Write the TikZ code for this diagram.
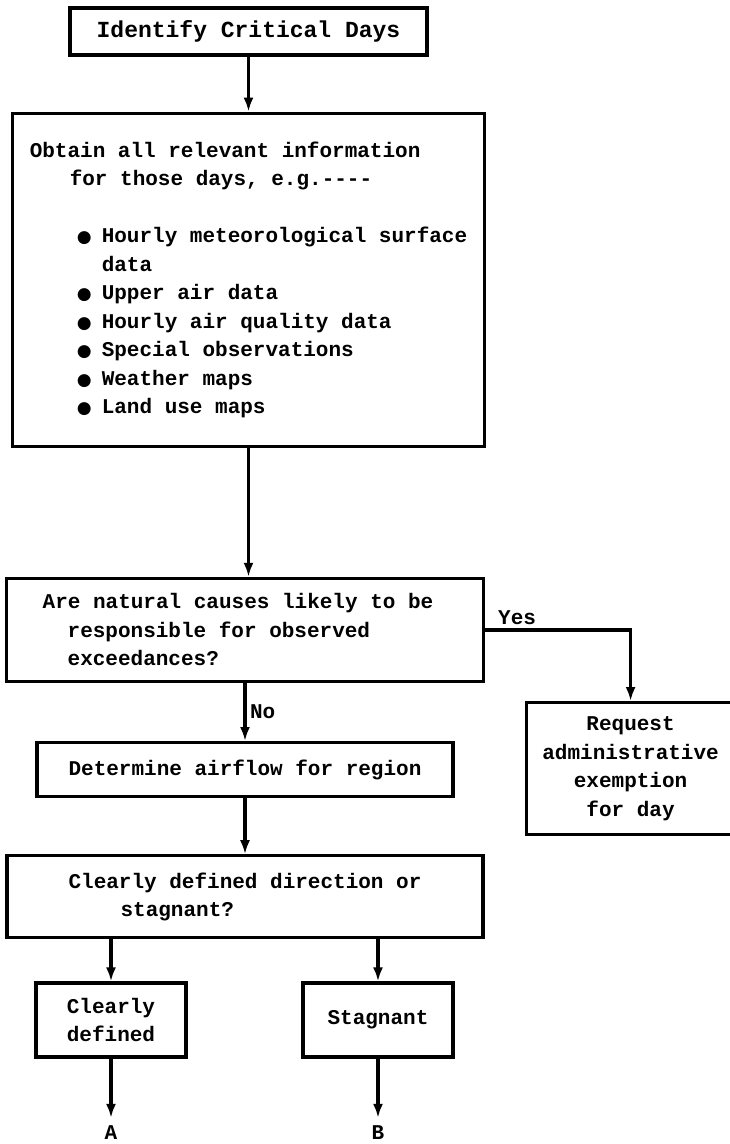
\documentclass[tikz,border=0pt]{standalone}
\usepackage{fontspec}
\setmonofont{Liberation Mono}
\newfontfamily\bulfont{DejaVu Sans}
\usetikzlibrary{arrows.meta,positioning}

% bullet sitting in a two-character cell of the typewriter font
\newcommand\bul{\makebox[25pt][l]{{\bulfont\fontsize{17}{17}\selectfont ●}}}

\begin{document}
\begin{tikzpicture}[x=1pt,y=-1pt,
  every node/.style={font=\ttfamily\bfseries\fontsize{21}{28.5}\selectfont},
  box/.style={draw,line width=3.2pt},
  arr/.style={line width=3.5pt,-{Latex[length=14pt,width=10pt]}}]
\path[use as bounding box,fill=white] (0,0) rectangle (730,1144);

\node[box,minimum width=357pt,minimum height=47pt,font=\ttfamily\bfseries\fontsize{23}{28}\selectfont] (crit) at (248.5,31.5) {Identify Critical Days};
\node[box,below=55pt of crit,minimum width=472pt,minimum height=333pt,align=left] (info) {Obtain all relevant information\\
\hspace*{40pt}for those days, e.g.----\\[28.5pt]
\hspace*{47pt}\bul Hourly meteorological surface\hspace*{8pt}\\
\hspace*{72pt}data\\
\hspace*{47pt}\bul Upper air data\\
\hspace*{47pt}\bul Hourly air quality data\\
\hspace*{47pt}\bul Special observations\\
\hspace*{47pt}\bul Weather maps\\
\hspace*{47pt}\bul Land use maps};
\node[box,below=129pt of info,xshift=-3.5pt,minimum width=477pt,minimum height=103pt,align=left] (natq) {Are natural causes likely to be\hspace*{14pt}\\
\hspace*{25pt}responsible for observed\\
\hspace*{25pt}exceedances?};
\node[box,below=58pt of natq,minimum width=416pt,minimum height=54pt] (airflow) {Determine airflow for region};
\node[box,anchor=north west,minimum width=208pt,minimum height=132pt,align=center] (exempt) at (525,701) {Request\\administrative\\exemption\\for day};
\node[box,below=56pt of airflow,minimum width=476pt,minimum height=82pt,align=left] (dirq) {Clearly defined direction or\\
\hspace*{52pt}stagnant?};
\node[box,minimum width=150pt,minimum height=74pt,align=center] (clear) at (111,1020) {Clearly\\defined};
\node[box,minimum width=150pt,minimum height=74pt] (stag) at (378,1020) {Stagnant};
\node[inner sep=8pt] (outA) at (111,1133) {A};
\node[inner sep=8pt] (outB) at (378,1133) {B};

\draw[arr] (crit) -- (crit |- info.north);
\draw[arr] (info) -- (info |- natq.north);
\draw[arr] (natq.south -| airflow) -- node[right] {No} (airflow);
\draw[arr] (natq.east) -| node[pos=0.11,above] {Yes} (exempt.north);
\draw[arr] (airflow) -- (dirq);
\draw[arr] (dirq.south -| clear) -- (clear);
\draw[arr] (dirq.south -| stag) -- (stag);
\draw[arr] (clear) -- (outA);
\draw[arr] (stag) -- (outB);
\end{tikzpicture}
\end{document}
